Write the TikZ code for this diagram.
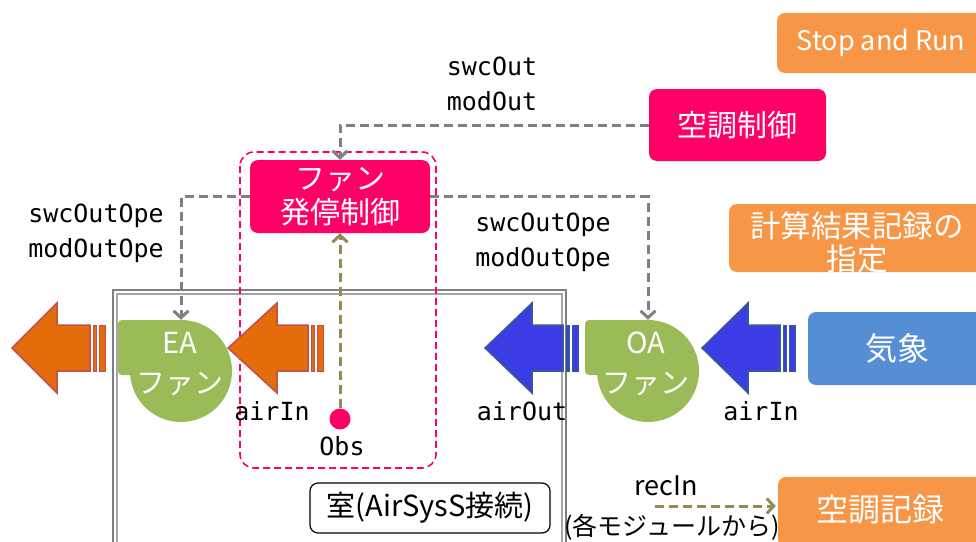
\documentclass[tikz,border=0pt]{standalone}
\usepackage{fontspec}
\setmainfont{Noto Sans CJK JP}
\newfontfamily\monof{DejaVu Sans Mono}
\usetikzlibrary{arrows.meta}
\definecolor{mag}{HTML}{FF0066}
\definecolor{fangreen}{HTML}{9BBB59}
\definecolor{boxorange}{HTML}{F79646}
\definecolor{boxblue}{HTML}{558ED5}
\definecolor{arrorange}{HTML}{E46C0A}
\definecolor{arrorangeb}{HTML}{C0504D}
\definecolor{arrblue}{HTML}{3C3CE6}
\definecolor{arrblueb}{HTML}{385D8A}
\definecolor{olv}{HTML}{948A54}
\definecolor{ctlgray}{HTML}{808080}
\definecolor{roomgray}{HTML}{7F7F7F}
\definecolor{roomgrayl}{HTML}{A6A6A6}
\newcommand{\blockarrow}[6]{%
  \filldraw[fill=#5, draw=#6, line width=1.5pt, line join=miter]
    (#1,#4) -- (#2,#4-45) -- (#2,#4-23) -- (#3-15,#4-23) -- (#3-15,#4+23)
    -- (#2,#4+23) -- (#2,#4+45) -- cycle;
  \filldraw[fill=#5, draw=#6, line width=1pt] (#3-12,#4-23) rectangle (#3-9,#4+23);
  \filldraw[fill=#5, draw=#6, line width=1pt] (#3-6,#4-23) rectangle (#3,#4+23);
}
\begin{document}
\begin{tikzpicture}[x=1pt,y=-1pt,
  box/.style={rounded corners=8pt, text=white, align=center, inner sep=0pt},
  monolbl/.style={font=\monof\fontsize{25}{35}\selectfont, align=left, inner sep=0pt},
  ctl/.style={ctlgray, dash pattern=on 9pt off 5pt, line width=3pt, -{Straight Barb[length=7pt,width=15pt]}},
  olvarrow/.style={olv, dash pattern=on 9pt off 5pt, line width=3pt, -{Straight Barb[length=7pt,width=15pt]}},
  fan/.style={circle, fill=fangreen, minimum size=102pt, inner sep=0pt},
  fantxt/.style={text=white, align=center, font=\fontsize{29}{40}\selectfont, inner sep=0pt}
]
\useasboundingbox (0,0) rectangle (976,541);
\clip (0,0) rectangle (976,541);
\fill[white] (0,0) rectangle (976,541);

% room
\draw[roomgray, line width=2.5pt] (113,290) rectangle (566,600);
\draw[roomgrayl, line width=1.5pt] (117,294) rectangle (562,600);
\node[draw, rounded corners=8pt, line width=1.2pt, minimum width=240pt, minimum height=50pt, inner sep=0pt,
  font=\fontsize{29}{32}\selectfont] (roomlbl) at (430,508) {室(AirSysS接続)};

% pink dashed group
\draw[mag, dash pattern=on 7pt off 4pt, line width=1.6pt, rounded corners=14pt] (240,152) rectangle (436,468);

% boxes
\node[box, fill=boxorange, minimum width=208pt, minimum height=60pt, font=\fontsize{27}{30}\selectfont] (stop) at (881,43) {Stop and Run};
\node[box, fill=mag, minimum width=177pt, minimum height=72pt, font=\fontsize{30}{32}\selectfont] (hvac) at (737.5,125) {空調制御};
\node[box, fill=boxorange, minimum width=256pt, minimum height=68pt] (rec) at (857,238) {};
\node[text=white, align=center, font=\fontsize{30.5}{33}\selectfont, inner sep=0pt] (rectxt) at (857,242) {計算結果記録の\\指定};
\node[box, fill=boxblue, minimum width=178pt, minimum height=73pt, font=\fontsize{32}{34}\selectfont] (wx) at (897,348.5) {気象};
\node[box, fill=boxorange, minimum width=210pt, minimum height=70pt] (hrec) at (883,512) {};
\node[text=white, font=\fontsize{32}{34}\selectfont, inner sep=0pt] (hrectxt) at (880,509) {空調記録};
\node[box, fill=mag, minimum width=180pt, minimum height=73pt, font=\fontsize{30}{34}\selectfont] (ctrl) at (340,196.5) {ファン\\発停制御};

% block arrows
\blockarrow{12}{57}{105}{348}{arrorange}{arrorangeb}
\blockarrow{228}{277}{323}{348}{arrorange}{arrorangeb}
\blockarrow{485}{532}{578}{348}{arrblue}{arrblueb}
\blockarrow{702}{748}{795}{348}{arrblue}{arrblueb}

% fans
\fill[fangreen, rounded corners=4pt] (118,320) rectangle (181,375);
\node[fan] (eafan) at (181,371) {};
\node[fantxt] (eatxt) at (180,364) {EA\\ファン};
\fill[fangreen, rounded corners=4pt] (585,320) rectangle (648,375);
\node[fan] (oafan) at (648,371) {};
\node[fantxt] (oatxt) at (646,364) {OA\\ファン};

% obs
\node[circle, fill=mag, minimum size=21pt, inner sep=0pt] (obs) at (340,419) {};

% connectors
\draw[ctl] (hvac.west) -| (ctrl.north);
\draw[ctl] (ctrl.west) -| (eafan.north);
\draw[ctl] (ctrl.east) -| (oafan.north);
\draw[olvarrow] (obs.north) -- (obs.north |- ctrl.south);
\coordinate (recstart) at (655,506);
\draw[olvarrow] (recstart) -- ([xshift=-2pt]recstart -| hrec.west);

% labels
\node[monolbl] (l1) at (492,84) {swcOut\\modOut};
\node[monolbl] (l2) at (96,233) {swcOutOpe\\modOutOpe};
\node[monolbl] (l3) at (543,242) {swcOutOpe\\modOutOpe};
\node[monolbl] (l4) at (272,411) {airIn};
\node[monolbl] (l5) at (522,411) {airOut};
\node[monolbl] (l6) at (761,411) {airIn};
\node[monolbl] (l7) at (342,446) {Obs};
\node[font=\fontsize{27}{30}\selectfont, inner sep=0pt] (l8) at (666,486) {recIn};
\node[font=\fontsize{25}{28}\selectfont, inner sep=0pt] (l9) at (672,527) {(各モジュールから)};
\end{tikzpicture}
\end{document}
